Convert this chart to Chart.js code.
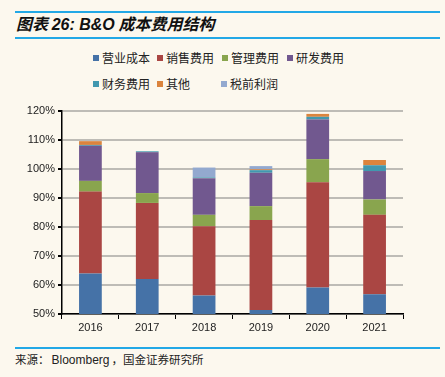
<!DOCTYPE html>
<html>
<head>
<meta charset="utf-8">
<script src="https://cdn.jsdelivr.net/npm/chart.js@4"></script>
<style>
  body { margin: 0; background: #FCF8EE; }
  #page { position: relative; width: 445px; height: 377px; background: #FCF8EE; overflow: hidden;
          font-family: "Noto Sans CJK SC", "Liberation Sans", sans-serif; color: #111; }
  .rule { position: absolute; left: 15px; width: 425px; background: #22A8E6; }
  #title { position: absolute; left: 16px; top: 11px; font-size: 16px; font-weight: bold; font-style: italic; white-space: nowrap; }
  #title .num { font-family: "Liberation Sans", Arial, sans-serif; }
  #legend { position: absolute; left: 93px; top: 49px; width: 270px; }
  .item { position: absolute; display: flex; align-items: center; font-size: 12px; white-space: nowrap; color: #222; }
  .item i { display: inline-block; width: 6px; height: 6px; margin-right: 3px; }
  #source { position: absolute; left: 15px; top: 351px; font-size: 11.5px; white-space: nowrap; color: #222; }
  #source .en { font-family: "Liberation Sans", Arial, sans-serif; font-size: 12px; margin: 0 2px; }
  #wrap { position: absolute; left: 0; top: 100px; width: 420px; height: 240px; }
</style>
</head>
<body>
<div id="page">
  <div class="rule" style="top:11px;height:2px"></div>
  <div id="title">图表 <span class="num">26:  B&amp;O</span> 成本费用结构</div>
  <div class="rule" style="top:37px;height:2px"></div>
  <div id="legend"></div>
  <div id="wrap"><canvas id="chart"></canvas></div>
  <div class="rule" style="top:347px;height:2px"></div>
  <div id="source">来源：<span class="en">Bloomberg</span>，国金证券研究所</div>
</div>
<script>
const years = ['2016', '2017', '2018', '2019', '2020', '2021'];
const seriesNames = ['营业成本', '销售费用', '管理费用', '研发费用', '财务费用', '其他', '税前利润'];
const seriesColors = ['#4572A7', '#AA4643', '#89A54E', '#71588F', '#4198AF', '#DB843D', '#93A9CF'];

// percent of revenue
const costOfSales = [64.0, 62.1, 56.4, 51.4, 59.1, 56.8];
const salesExp    = [28.2, 26.2, 23.9, 31.0, 36.3, 27.4];
const adminExp    = [3.7, 3.4, 3.9, 4.8, 8.0, 5.3];
const rdExp       = [12.1, 14.1, 12.6, 11.5, 13.7, 9.8];
const financeExp  = [0.3, 0.3, 0.3, 0.9, 0.9, 2.0];
const otherExp    = [1.3, 0, 0, 0.3, 1.0, 1.8];
const pretaxProfit = [0, 0, 3.4, 1.1, 0, 0];

const yTicks = [50, 60, 70, 80, 90, 100, 110, 120];

const seriesData = [costOfSales, salesExp, adminExp, rdExp, financeExp, otherExp, pretaxProfit];

// legend laid out on a fixed grid like the original
const legendPos = [[0, 0], [64, 0], [129, 0], [194, 0], [0, 26], [64, 26], [128, 26]];
const legendEl = document.getElementById('legend');
seriesNames.forEach((name, i) => {
    const el = document.createElement('div');
    el.className = 'item';
    el.style.left = legendPos[i][0] + 'px';
    el.style.top = legendPos[i][1] + 'px';
    el.innerHTML = '<i style="background:' + seriesColors[i] + '"></i>' + name;
    legendEl.appendChild(el);
});

new Chart(document.getElementById('chart'), {
    type: 'bar',
    data: {
        labels: years,
        datasets: seriesNames.map((name, i) => ({
            label: name,
            data: seriesData[i],
            backgroundColor: seriesColors[i],
            borderWidth: 0,
            barPercentage: 0.8,
            categoryPercentage: 0.5
        }))
    },
    options: {
        responsive: true,
        maintainAspectRatio: false,
        animation: false,
        layout: { padding: { top: 11, right: 17, bottom: 0, left: 0 } },
        plugins: {
            legend: { display: false },
            tooltip: { enabled: false }
        },
        scales: {
            x: {
                stacked: true,
                afterFit(scale) { scale.height = 26; },
                grid: { drawOnChartArea: false, color: '#000', tickLength: 5, offset: true },
                border: { color: '#000', width: 1.5 },
                ticks: { color: '#222', padding: 2, font: { family: 'Liberation Sans', size: 11 } }
            },
            y: {
                stacked: true,
                min: 50,
                max: 120,
                afterFit(scale) { scale.width = 62; },
                afterBuildTicks(scale) { scale.ticks = yTicks.map(v => ({ value: v })); },
                grid: { color: '#BEBCB6', lineWidth: 2, tickLength: 4, tickColor: '#000' },
                border: { color: '#000', width: 1.5 },
                ticks: {
                    color: '#222',
                    padding: 3,
                    font: { family: 'Liberation Sans', size: 11 },
                    callback: v => v + '%'
                }
            }
        }
    }
});
</script>
</body>
</html>
